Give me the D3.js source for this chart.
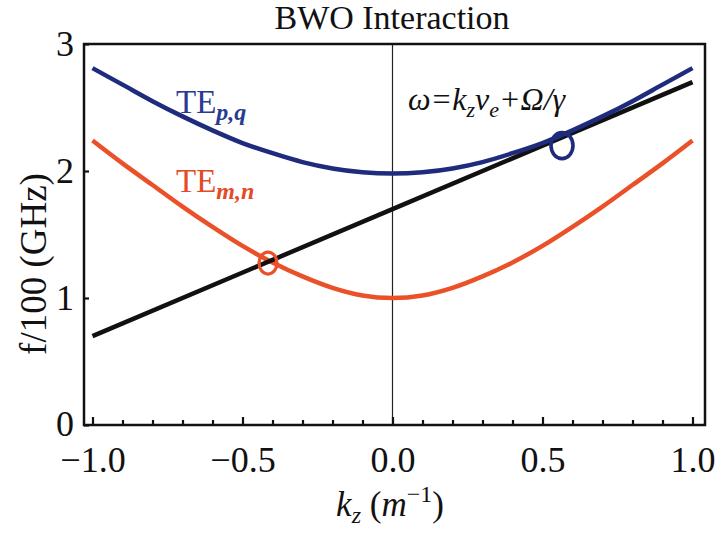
<!DOCTYPE html>
<html>
<head>
<meta charset="utf-8">
<script src="https://cdn.jsdelivr.net/npm/d3@7/dist/d3.min.js"></script>
<style>
  html, body { margin: 0; padding: 0; background: #fff; }
  svg { display: block; }
  text { font-family: "Liberation Serif", "DejaVu Serif", serif; }
</style>
</head>
<body>
<svg id="chart" width="717" height="533"></svg>
<script>
// Wavenumber samples (m^-1)
const kz = [-1.0, -0.9, -0.8, -0.7, -0.6, -0.5, -0.4, -0.3, -0.2, -0.1, 0.0,
            0.1, 0.2, 0.3, 0.4, 0.5, 0.6, 0.7, 0.8, 0.9, 1.0];
// TE_{p,q} dispersion curve, f/100 (GHz)
const tePQ = [2.81, 2.68, 2.55, 2.43, 2.32, 2.22, 2.14, 2.07, 2.02, 1.99, 1.98,
              1.99, 2.02, 2.07, 2.14, 2.22, 2.32, 2.43, 2.55, 2.68, 2.81];
// TE_{m,n} dispersion curve, f/100 (GHz)
const teMN = [2.24, 2.06, 1.89, 1.72, 1.56, 1.41, 1.28, 1.17, 1.08, 1.02, 1.00,
              1.02, 1.08, 1.17, 1.28, 1.41, 1.56, 1.72, 1.89, 2.06, 2.24];
// Beam line ω = k_z v_e + Ω/γ
const beamK = [-1.0, 0.0, 1.0];
const beamF = [0.70, 1.70, 2.70];
// Interaction points [k_z, f/100]
const markPQ = [0.565, 2.20];
const markMN = [-0.415, 1.275];
// Axis ticks
const xTickLabels = [-1.0, -0.5, 0.0, 0.5, 1.0];
const xMinorTicks = d3.range(-10, 11).map(d => d / 10);
const yTickLabels = [0, 1, 2, 3];

const svg = d3.select("#chart");
const frame = { left: 84, right: 705, top: 44, bottom: 425 };

const x = d3.scaleLinear().domain([-1, 1]).range([92.5, 692.5]);
const y = d3.scaleLinear().domain([0, 3]).range([frame.bottom, frame.top]);

const BLUE = "#1f2b7d";
const RED = "#ea5128";

// Title
svg.append("text")
  .attr("x", 392).attr("y", 29)
  .attr("text-anchor", "middle")
  .attr("font-size", 34)
  .attr("fill", "#111")
  .text("BWO Interaction");

// Center line at k_z = 0
svg.append("line")
  .attr("x1", x(0)).attr("x2", x(0))
  .attr("y1", frame.top).attr("y2", frame.bottom)
  .attr("stroke", "#222").attr("stroke-width", 1.2);

// Bottom axis: minor ticks every 0.1, longer at multiples of 0.5
const xMinor = d3.axisBottom(x).tickValues(xMinorTicks).tickFormat("")
  .tickSizeInner(-5).tickSizeOuter(0);
const gxm = svg.append("g").attr("transform", `translate(0,${frame.bottom})`).call(xMinor);
gxm.select(".domain").remove();
gxm.selectAll(".tick line").attr("stroke", "#111").attr("stroke-width", 2.2)
  .attr("y2", d => Math.abs(Math.round(d * 10) % 5) === 0 ? -8 : -5);

const xAxis = d3.axisBottom(x).tickValues(xTickLabels)
  .tickFormat(d3.format(".1f")).tickSize(0).tickPadding(21);
const gx = svg.append("g").attr("transform", `translate(0,${frame.bottom})`).call(xAxis);
gx.select(".domain").remove();
gx.selectAll(".tick text")
  .attr("font-family", "Liberation Serif, serif")
  .attr("font-size", 36).attr("fill", "#111")
  .attr("dy", "0.71em");

// Left axis
const yAxis = d3.axisLeft(y).tickValues(yTickLabels).tickFormat(d3.format("d"))
  .tickSizeInner(-5).tickSizeOuter(0).tickPadding(10);
const gy = svg.append("g").attr("transform", `translate(${frame.left},0)`).call(yAxis);
gy.select(".domain").remove();
gy.selectAll(".tick line").attr("stroke", "#111").attr("stroke-width", 2.2);
gy.selectAll(".tick text")
  .attr("font-family", "Liberation Serif, serif")
  .attr("font-size", 36).attr("fill", "#111")
  .attr("dy", d => d === 0 ? "0.28em" : "0.32em");

// Curves
const line = d3.line().x(d => x(d[0])).y(d => y(d[1])).curve(d3.curveMonotoneX);
const ptsPQ = kz.map((k, i) => [k, tePQ[i]]);
const ptsMN = kz.map((k, i) => [k, teMN[i]]);
const ptsBeam = beamK.map((k, i) => [k, beamF[i]]);

svg.append("path").datum(ptsMN).attr("d", line)
  .attr("fill", "none").attr("stroke", RED).attr("stroke-width", 4.5);
svg.append("path").datum(ptsBeam).attr("d", d3.line().x(d => x(d[0])).y(d => y(d[1])))
  .attr("fill", "none").attr("stroke", "#111").attr("stroke-width", 4.5);
svg.append("path").datum(ptsPQ).attr("d", line)
  .attr("fill", "none").attr("stroke", BLUE).attr("stroke-width", 4.5);

// Interaction markers
svg.append("ellipse")
  .attr("cx", x(markMN[0])).attr("cy", y(markMN[1]))
  .attr("rx", 9).attr("ry", 11)
  .attr("fill", "none").attr("stroke", RED).attr("stroke-width", 3.2);
svg.append("ellipse")
  .attr("cx", x(markPQ[0])).attr("cy", y(markPQ[1]))
  .attr("rx", 11).attr("ry", 13)
  .attr("fill", "none").attr("stroke", BLUE).attr("stroke-width", 3.6);

// Frame
svg.append("rect")
  .attr("x", frame.left).attr("y", frame.top)
  .attr("width", frame.right - frame.left).attr("height", frame.bottom - frame.top)
  .attr("fill", "none").attr("stroke", "#111").attr("stroke-width", 2.5);

// Curve labels
const lblPQ = svg.append("text").attr("x", 176).attr("y", 113)
  .attr("font-size", 33).attr("fill", "#2a3a92");
lblPQ.append("tspan").text("TE");
lblPQ.append("tspan").attr("dy", 7).attr("font-size", 24)
  .attr("font-style", "italic").attr("font-weight", "bold").text("p,q");

const lblMN = svg.append("text").attr("x", 176).attr("y", 192)
  .attr("font-size", 33).attr("fill", "#e44a26");
lblMN.append("tspan").text("TE");
lblMN.append("tspan").attr("dy", 7).attr("font-size", 24)
  .attr("font-style", "italic").attr("font-weight", "bold").text("m,n");

// Beam line equation
const eq = svg.append("text").attr("x", 408).attr("y", 110)
  .attr("font-size", 32).attr("font-style", "italic").attr("fill", "#111");
eq.append("tspan").text("ω=k");
eq.append("tspan").attr("dy", 7).attr("font-size", 22).text("z");
eq.append("tspan").attr("dy", -7).text("v");
eq.append("tspan").attr("dy", 7).attr("font-size", 22).text("e");
eq.append("tspan").attr("dy", -7).text("+Ω/γ");

// Y axis title
svg.append("text")
  .attr("transform", "translate(46,264) rotate(-90)")
  .attr("text-anchor", "middle")
  .attr("font-size", 37).attr("fill", "#111")
  .text("f/100 (GHz)");

// X axis title
const xt = svg.append("text").attr("x", 390).attr("y", 516)
  .attr("text-anchor", "middle")
  .attr("font-size", 35).attr("fill", "#111");
xt.append("tspan").attr("font-style", "italic").text("k");
xt.append("tspan").attr("dy", 7).attr("font-size", 24).attr("font-style", "italic").text("z");
xt.append("tspan").attr("dy", -7).text(" (");
xt.append("tspan").attr("font-style", "italic").text("m");
xt.append("tspan").attr("dy", -14).attr("font-size", 24).text("−1");
xt.append("tspan").attr("dy", 14).text(")");
</script>
</body>
</html>
